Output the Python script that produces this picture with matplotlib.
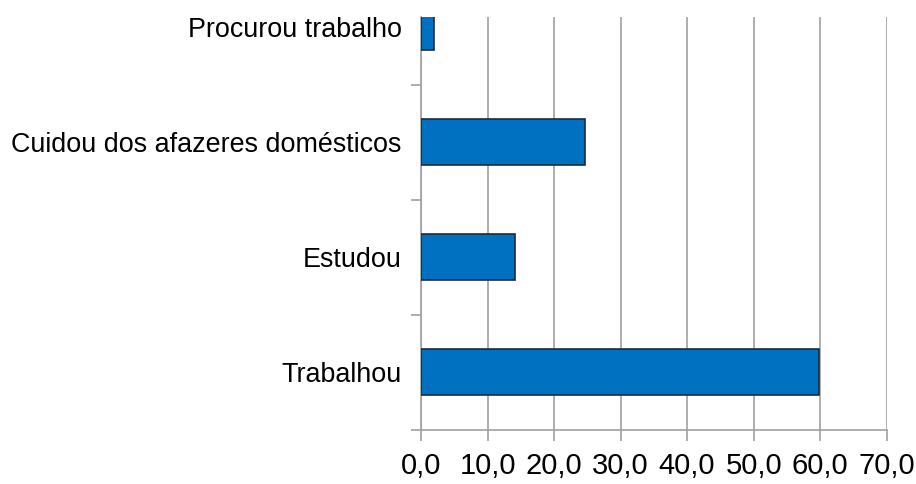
import matplotlib
matplotlib.use("Agg")
import matplotlib.pyplot as plt
from matplotlib.ticker import FixedLocator

categories = ["Trabalhou", "Estudou", "Cuidou dos afazeres domésticos", "Procurou trabalho"]
values = [59.8, 14.1, 24.7, 2.0]
xticks = [0, 10, 20, 30, 40, 50, 60, 70]
xtick_labels = ["0,0", "10,0", "20,0", "30,0", "40,0", "50,0", "60,0", "70,0"]

plt.rcParams["font.family"] = ["Liberation Sans", "DejaVu Sans"]

fig = plt.figure(figsize=(9.16, 4.84), dpi=100)
ax = fig.add_axes([0.4596, 0.1116, 0.5084, 0.8534])

pos = list(range(len(categories)))
ax.barh(pos, values, height=0.4, color="#0070C0", edgecolor="#1c2b3a", linewidth=1.2, zorder=3)

ax.set_xlim(0, 70)
ax.set_ylim(-0.5, 3.09)
ax.set_xticks(xticks)
ax.set_xticklabels(xtick_labels, fontsize=21)
ax.set_yticks(pos)
ax.set_yticklabels(categories, fontsize=19.4)
ax.yaxis.set_minor_locator(FixedLocator([-0.5, 0.5, 1.5, 2.5]))
ax.tick_params(axis="y", which="major", length=0, pad=14)
ax.tick_params(axis="y", which="minor", length=7, color="#a0a0a0", width=1.2)
ax.tick_params(axis="x", length=8, color="#a0a0a0", width=1.2, pad=8)

ax.grid(axis="x", color="#a0a0a0", linewidth=1.2, zorder=0)
for s in ["top", "right"]:
    ax.spines[s].set_visible(False)
for s in ["left", "bottom"]:
    ax.spines[s].set_color("#a0a0a0")
    ax.spines[s].set_linewidth(1.2)

fig.savefig("out.png", dpi=100)
